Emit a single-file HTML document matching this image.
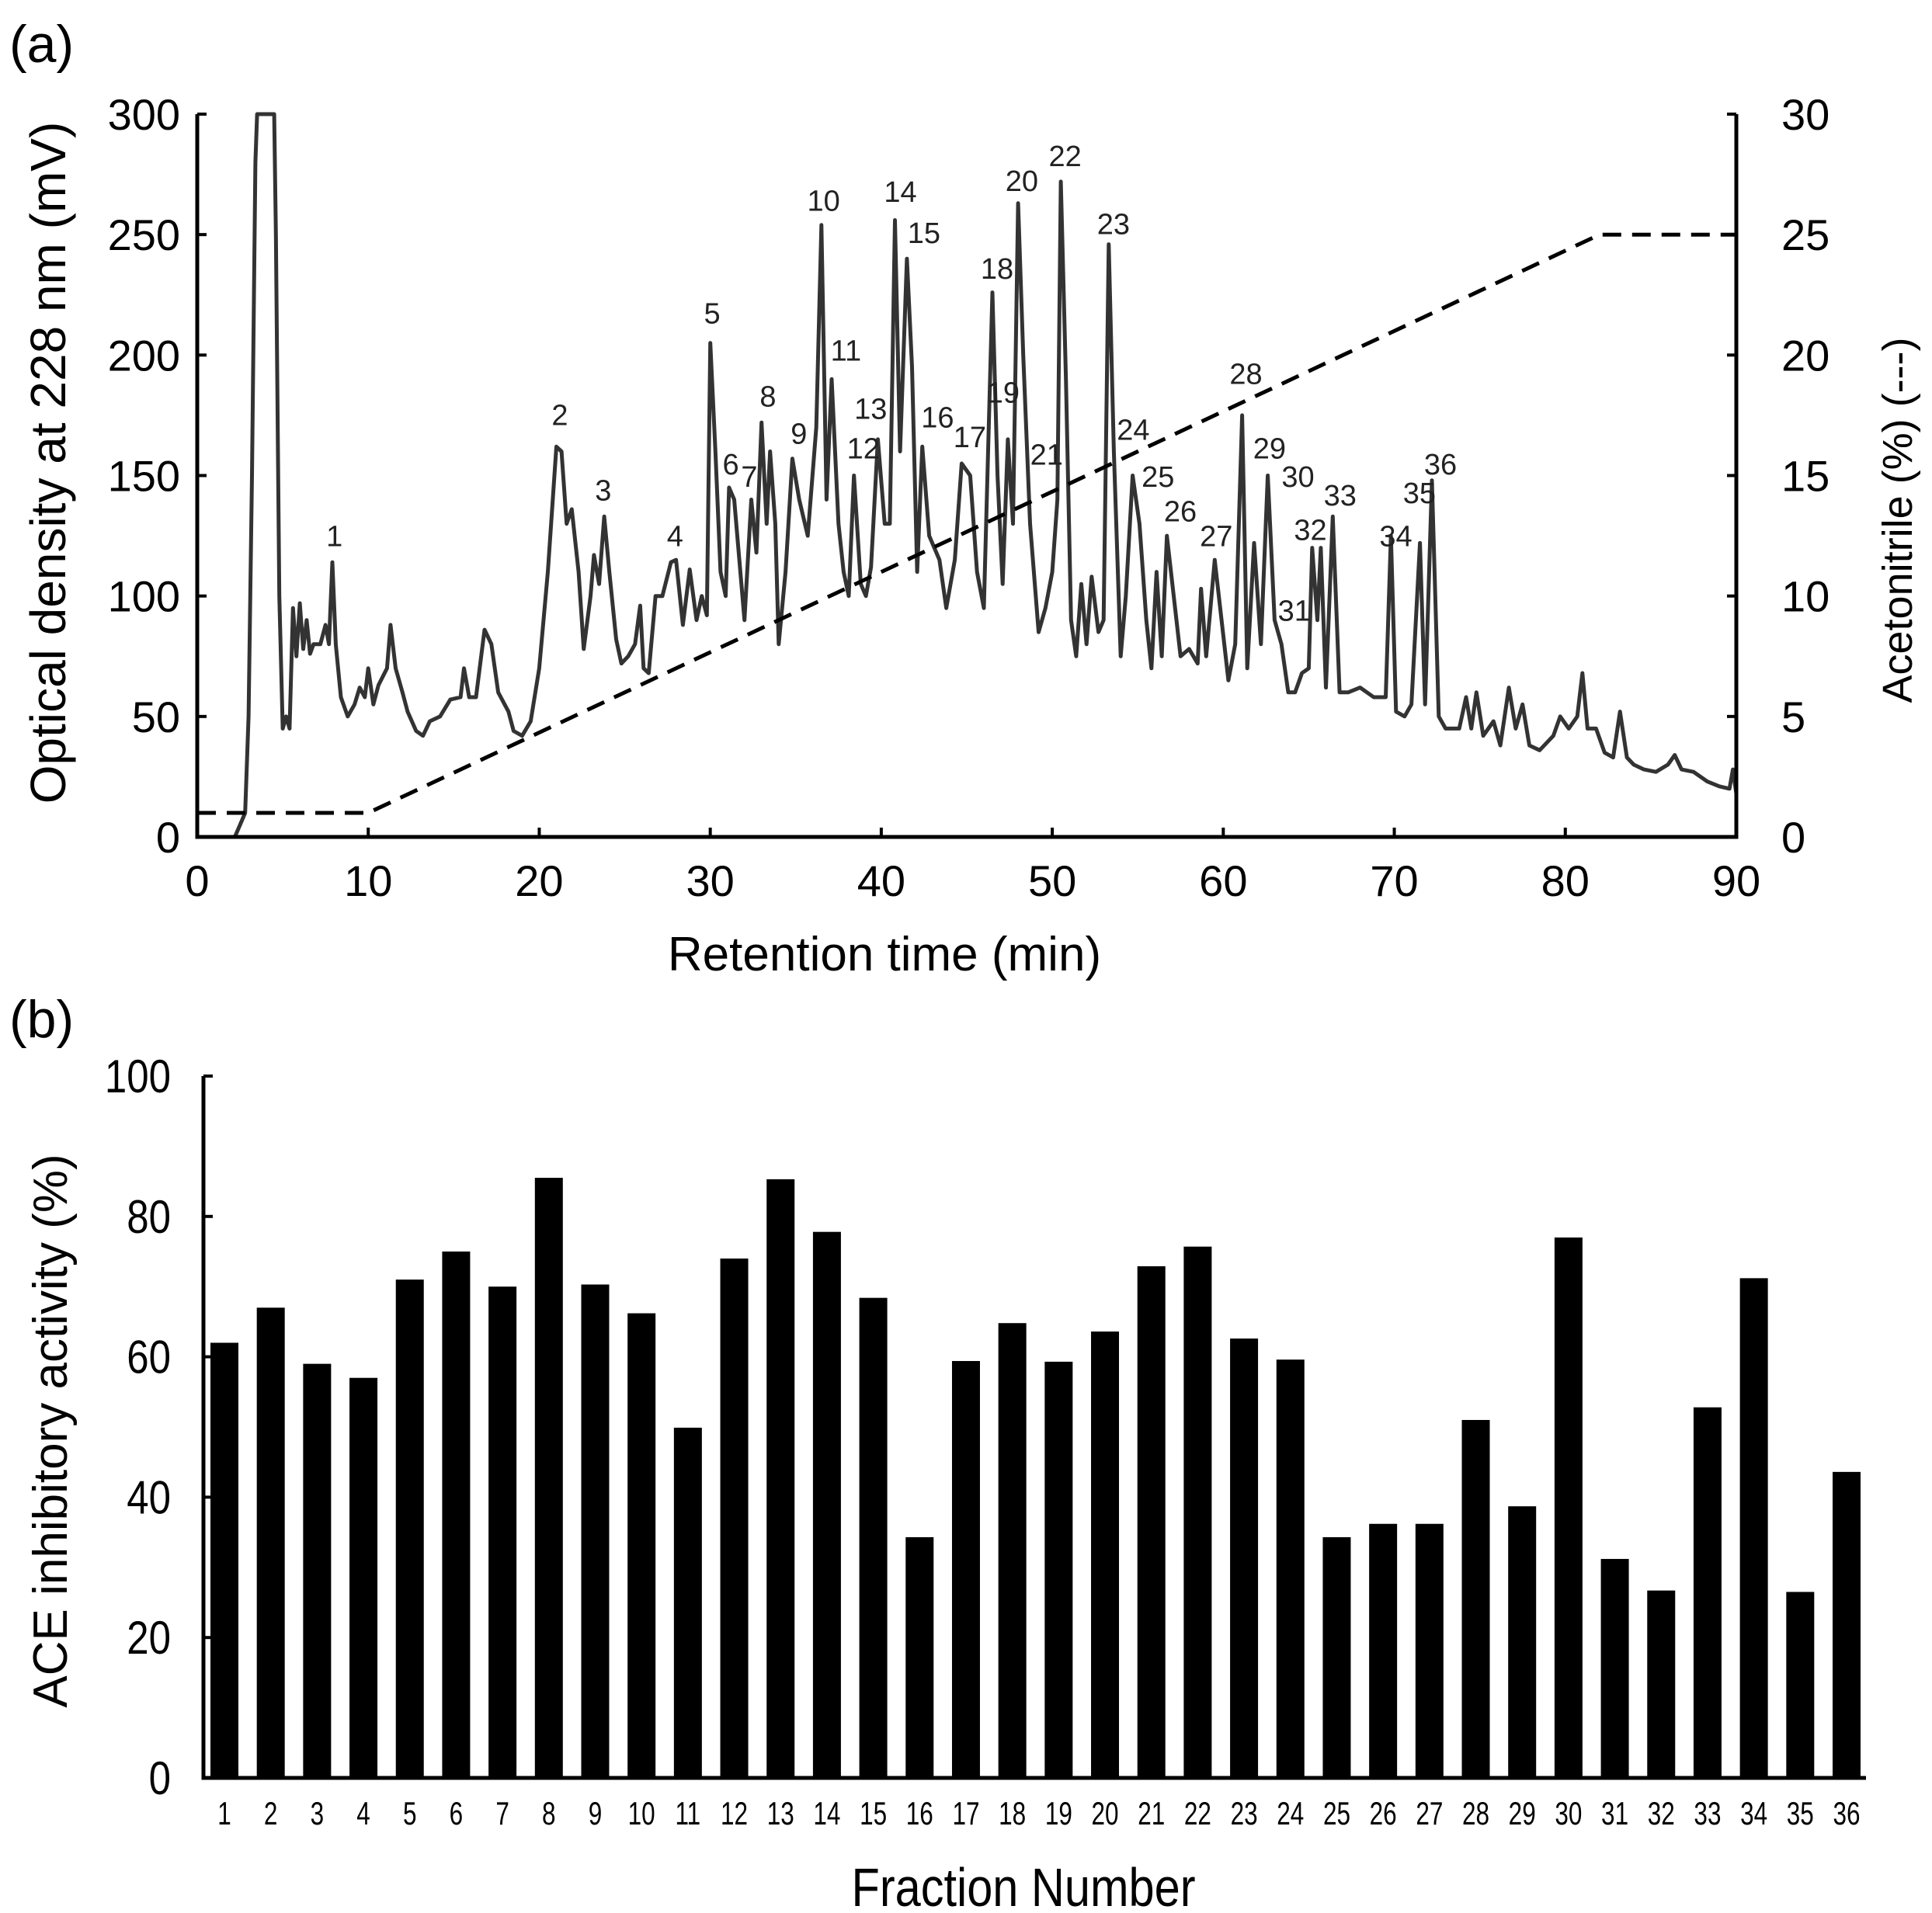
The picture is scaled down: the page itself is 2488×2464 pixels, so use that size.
<!DOCTYPE html>
<html><head><meta charset="utf-8"><style>
html,body{margin:0;padding:0;background:#fff}
svg{display:block}
text{font-family:"Liberation Sans",sans-serif}
</style></head><body>
<svg id="fig" width="2488" height="2464" viewBox="0 0 2488 2464" xmlns="http://www.w3.org/2000/svg">
<text x="12" y="80" font-size="68">(a)</text>
<text x="12" y="1336" font-size="68">(b)</text>
<g id="topchart"></g>
<g id="botchart"></g>
</svg>
<script>
const NS='http://www.w3.org/2000/svg';
// ---------- chart (a) data ----------
const chromTime=[0,2.2,2.5,2.8,3.0,3.2,3.4,3.5,4.5,4.6,4.8,5.0,5.2,5.4,5.6,5.8,6.0,6.2,6.4,6.6,6.8,7.2,7.5,7.7,7.9,8.1,8.4,8.8,9.2,9.5,9.8,10.0,10.3,10.6,11.1,11.3,11.6,12.0,12.3,12.8,13.2,13.6,14.2,14.8,15.4,15.6,15.9,16.3,16.8,17.2,17.6,18.2,18.5,19.0,19.5,20.0,20.5,21.0,21.3,21.6,21.9,22.3,22.6,23.0,23.2,23.5,23.8,24.1,24.5,24.8,25.2,25.6,25.9,26.1,26.4,26.8,27.2,27.7,28.0,28.4,28.8,29.2,29.5,29.8,30.0,30.3,30.6,30.9,31.1,31.4,31.7,32.0,32.4,32.7,33.0,33.3,33.5,33.8,34.0,34.4,34.8,35.2,35.7,36.2,36.5,36.8,37.1,37.5,37.8,38.1,38.4,38.8,39.1,39.4,39.8,40.2,40.5,40.8,41.1,41.5,41.8,42.1,42.4,42.8,43.4,43.8,44.3,44.7,45.2,45.6,46.0,46.5,46.8,47.1,47.4,47.7,48.0,48.3,48.7,49.2,49.6,50.0,50.3,50.5,50.8,51.1,51.4,51.7,52.0,52.3,52.7,53.0,53.3,53.6,54.0,54.3,54.7,55.1,55.5,55.8,56.1,56.4,56.7,57.1,57.5,58.0,58.5,58.7,59.0,59.5,59.9,60.3,60.7,61.1,61.4,61.8,62.2,62.6,63.0,63.4,63.8,64.2,64.6,65.0,65.2,65.5,65.7,66.0,66.4,66.8,67.3,68.0,68.8,69.5,69.8,70.1,70.6,71.0,71.5,71.8,72.2,72.6,73.0,73.8,74.2,74.5,74.8,75.2,75.8,76.2,76.7,77.1,77.5,77.9,78.5,79.3,79.7,80.2,80.7,81.0,81.3,81.8,82.3,82.8,83.2,83.6,84.0,84.6,85.3,86.0,86.4,86.8,87.5,88.3,89.0,89.6,89.8,90.0];
const chromMV=[0,0,5,10,50,150,280,300,300,250,100,45,50,45,95,75,97,78,90,76,80,80,88,80,114,80,58,50,55,62,58,70,55,63,70,88,70,60,52,44,42,48,50,57,58,70,58,58,86,80,60,52,44,42,48,70,110,162,160,130,136,110,78,100,117,105,133,110,82,72,75,80,96,70,68,100,100,114,115,88,111,90,100,92,205,160,110,100,145,140,115,90,140,118,172,130,160,130,80,110,157,140,125,170,254,140,190,130,110,100,150,105,100,112,165,130,130,256,160,240,195,110,162,125,115,95,115,155,150,110,95,226,150,105,165,130,263,200,130,85,95,110,140,272,190,90,75,105,80,108,85,90,246,160,75,100,150,130,90,70,110,75,125,100,75,78,72,103,75,115,90,65,80,175,70,122,80,150,90,80,60,60,68,70,120,90,120,62,133,60,60,62,58,58,125,52,50,55,122,55,148,50,45,45,58,45,60,42,48,38,62,45,55,38,36,42,50,45,50,68,45,45,35,33,52,33,30,28,27,30,34,28,27,23,21,20,28,18];
const gradTime=[0,10,82,90];
const gradPct=[1,1,25,25];
const xTicksA=[0,10,20,30,40,50,60,70,80,90];
const yTicksA=[0,50,100,150,200,250,300];
const yTicksR=[0,5,10,15,20,25,30];
const peakLabels=['1','2','3','4','5','6','7','8','9','10','11','12','13','14','15','16','17','18','19','20','21','22','23','24','25','26','27','28','29','30','31','32','33','34','35','36'];
const peakLabelX=[270,452,487,545,575,590,605,620,645,665,683,697,703,727,746,757,783,805,810,825,845,860,899,915,935,953,982,1006,1025,1048,1045,1058,1082,1127,1146,1163];
const peakLabelY=[433,335,396,433,253,375,385,320,350,162,283,362,330,155,188,337,353,217,317,146,367,126,181,347,385,413,433,302,362,385,493,428,400,433,398,375];
// ---------- chart (b) data ----------
const fractions=['1','2','3','4','5','6','7','8','9','10','11','12','13','14','15','16','17','18','19','20','21','22','23','24','25','26','27','28','29','30','31','32','33','34','35','36'];
const aceActivity=[62,67,59,57,71,75,70,85.5,70.3,66.2,49.9,74,85.3,77.8,68.4,34.3,59.4,64.8,59.3,63.6,72.9,75.7,62.6,59.6,34.3,36.2,36.2,51,38.7,77,31.2,26.7,52.8,71.2,26.5,43.6];
const yTicksB=[0,20,40,60,80,100];

function mk(tag,attrs,parent){const e=document.createElementNS(NS,tag);for(const k in attrs)e.setAttribute(k,attrs[k]);parent.appendChild(e);return e;}

// ----- chart (a) -----
const topG=document.getElementById('topchart');
const aL=254,aR=2236,aT=147,aB=1078;
const xa=t=>aL+(t/90)*(aR-aL);
const ya=v=>aB-(v/300)*(aB-aT);
const yr=p=>aB-(p/30)*(aB-aT);
let d='';
for(let i=0;i<chromTime.length;i++){d+=(i?'L':'M')+xa(chromTime[i]).toFixed(1)+','+ya(chromMV[i]).toFixed(1);}
const cl=mk('path',{d:d,fill:'none',stroke:'#333','stroke-width':5,'stroke-linejoin':'round'},topG);


let g='';
for(let i=0;i<gradTime.length;i++){g+=(i?'L':'M')+xa(gradTime[i]).toFixed(1)+','+yr(gradPct[i]).toFixed(1);}
const gl=mk('path',{d:g,fill:'none',stroke:'#000','stroke-width':5,'stroke-dasharray':'24,14'},topG);


const ax=mk('path',{d:`M${aL},${aT}V${aB}H${aR}V${aT}`,fill:'none',stroke:'#000','stroke-width':5},topG);


xTicksA.forEach(t=>{
 mk('line',{x1:xa(t),x2:xa(t),y1:aB,y2:aB-12,stroke:'#000','stroke-width':4},topG);
 const tx=mk('text',{x:xa(t),y:aB+76,'font-size':56,'text-anchor':'middle'},topG);tx.textContent=t;
 
 
});
yTicksA.forEach(v=>{
 mk('line',{x1:aL,x2:aL+12,y1:ya(v),y2:ya(v),stroke:'#000','stroke-width':4},topG);
 const tx=mk('text',{x:aL-22,y:ya(v)+20,'font-size':56,'text-anchor':'end'},topG);tx.textContent=v;
 
 
});
yTicksR.forEach(v=>{
 mk('line',{x1:aR,x2:aR-12,y1:yr(v),y2:yr(v),stroke:'#000','stroke-width':4},topG);
 const tx=mk('text',{x:aR+58,y:yr(v)+20,'font-size':56,'text-anchor':'start'},topG);tx.textContent=v;
 
 
});
peakLabels.forEach((s,i)=>{
 const tx=mk('text',{x:peakLabelX[i]*1.595,y:peakLabelY[i]*1.595+13,'font-size':38,'text-anchor':'middle',fill:'#222'},topG);tx.textContent=s;
 
 
});
let t1=mk('text',{x:1139,y:1250,'font-size':62,'text-anchor':'middle'},topG);t1.textContent='Retention time (min)';


let t2=mk('text',{x:0,y:0,'font-size':64,'text-anchor':'middle',transform:'translate(84,596) rotate(-90)'},topG);t2.textContent='Optical density at 228 nm (mV)';


let t3=mk('text',{x:0,y:0,'font-size':54,'text-anchor':'middle',transform:'translate(2462,670) rotate(-90)'},topG);t3.textContent='Acetonitrile (%) (---)';



// ----- chart (b) -----
const botG=document.getElementById('botchart');
const bL=262,bR=2403,bT=1386,bB=2290;
const yb=v=>bB-(v/100)*(bB-bT);
const xb=i=>289+i*((2378-289)/35);
aceActivity.forEach((v,i)=>{
 const r=mk('rect',{x:xb(i)-18,y:yb(v),width:36,height:bB-yb(v),fill:'#000'},botG);
 
 
 const tx=mk('text',{x:0,y:0,'font-size':42,'text-anchor':'middle',transform:`translate(${xb(i)},${bB+60}) scale(0.75,1)`},botG);tx.textContent=fractions[i];
 
 
});
const bx=mk('path',{d:`M${bL},${bT}V${bB}H${bR}`,fill:'none',stroke:'#000','stroke-width':5},botG);


yTicksB.forEach(v=>{
 mk('line',{x1:bL,x2:bL+12,y1:yb(v),y2:yb(v),stroke:'#000','stroke-width':4},botG);
 const tx=mk('text',{x:0,y:0,'font-size':60,'text-anchor':'end',transform:`translate(${bL-42},${yb(v)+21}) scale(0.85,1)`},botG);tx.textContent=v;
 
 
});
let t4=mk('text',{x:0,y:0,'font-size':70,'text-anchor':'middle',transform:'translate(1318,2455) scale(0.85,1)'},botG);t4.textContent='Fraction Number';


let t5=mk('text',{x:0,y:0,'font-size':62,'text-anchor':'middle',transform:'translate(86,1843) rotate(-90)'},botG);t5.textContent='ACE inhibitory activity (%)';


</script>
</body></html>
